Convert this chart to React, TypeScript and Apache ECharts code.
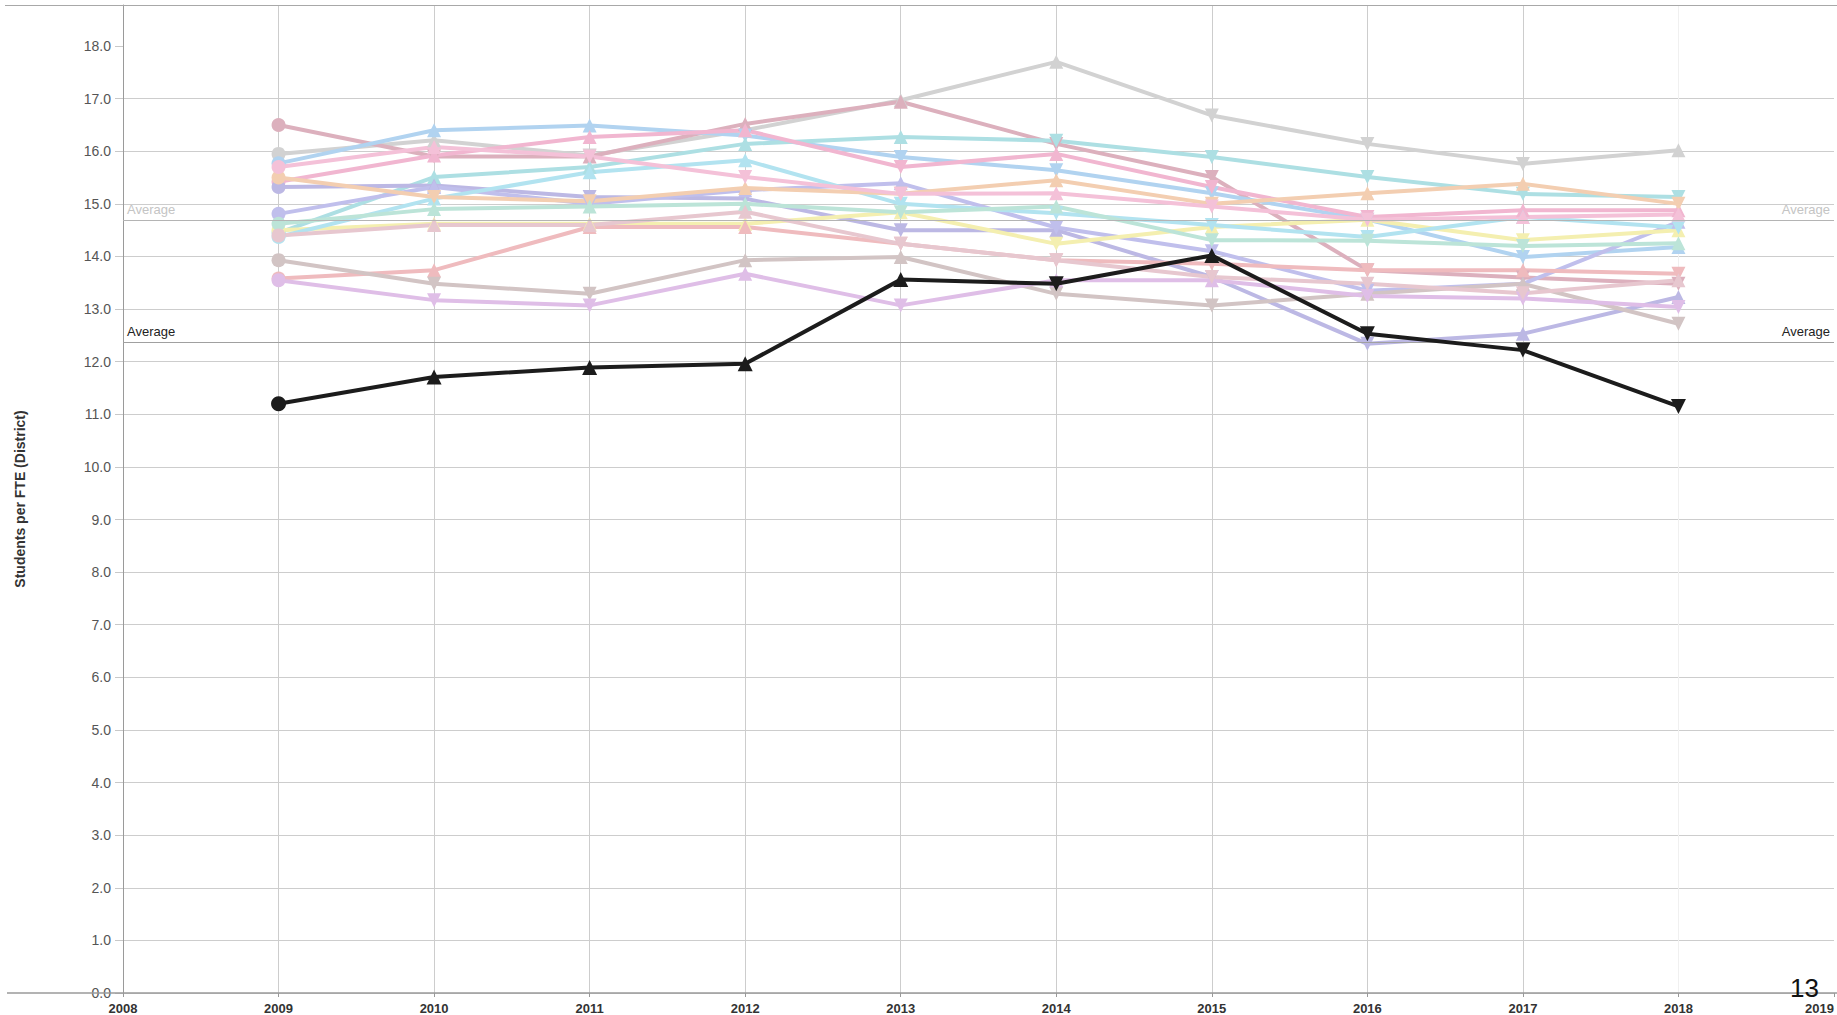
import React, { useEffect, useRef } from "react";
import * as echarts from "echarts";

// ---- data ----
const years = [2009, 2010, 2011, 2012, 2013, 2014, 2015, 2016, 2017, 2018];

const focusDistrict = [11.2, 11.71, 11.89, 11.96, 13.56, 13.48, 14.02, 12.53, 12.22, 11.15];

const peer01 = [15.95, 16.21, 15.92, 16.4, 16.97, 17.7, 16.68, 16.14, 15.76, 16.02];
const peer02 = [16.5, 15.9, 15.9, 16.52, 16.94, 16.14, 15.51, 13.74, 13.6, 13.48];
const peer03 = [15.77, 16.4, 16.49, 16.3, 15.89, 15.64, 15.2, 14.7, 13.99, 14.18];
const peer04 = [14.45, 15.51, 15.7, 16.14, 16.27, 16.2, 15.89, 15.51, 15.19, 15.13];
const peer05 = [15.42, 15.92, 16.27, 16.4, 15.7, 15.95, 15.32, 14.75, 14.88, 14.88];
const peer06 = [15.32, 15.35, 15.13, 15.1, 14.5, 14.5, 13.61, 12.34, 12.53, 13.23];
const peer07 = [14.81, 15.32, 15.0, 15.26, 15.39, 14.55, 14.1, 13.35, 13.48, 14.66];
const peer08 = [14.5, 14.62, 14.62, 14.62, 14.84, 14.24, 14.56, 14.7, 14.31, 14.5];
const peer09 = [13.58, 13.74, 14.56, 14.56, 14.24, 13.93, 13.86, 13.74, 13.74, 13.67];
const peer10 = [13.93, 13.48, 13.29, 13.93, 13.99, 13.29, 13.07, 13.29, 13.48, 12.72];
const peer11 = [13.55, 13.17, 13.07, 13.67, 13.07, 13.55, 13.55, 13.25, 13.2, 13.04];
const peer12 = [14.37, 15.1, 15.6, 15.83, 15.0, 14.82, 14.6, 14.37, 14.75, 14.55];
const peer13 = [15.5, 15.13, 15.05, 15.3, 15.19, 15.45, 15.0, 15.2, 15.38, 15.0];
const peer14 = [15.7, 16.08, 15.9, 15.51, 15.19, 15.2, 14.95, 14.7, 14.75, 14.8];
const peer15 = [14.62, 14.9, 14.95, 15.0, 14.84, 14.95, 14.31, 14.3, 14.2, 14.25];
const peer16 = [14.4, 14.6, 14.6, 14.85, 14.24, 13.93, 13.61, 13.48, 13.3, 13.55];

const peerSeries = [
  peer01, peer02, peer03, peer04, peer05, peer06, peer07, peer08,
  peer09, peer10, peer11, peer12, peer13, peer14, peer15, peer16,
];
const peerColors = [
  "#d2d2d2", "#dcb0bd", "#b1d3f0", "#addfe3", "#f1b6d0", "#bcb8e4", "#c0bfec", "#f4efb0",
  "#efbbbe", "#d2c4c4", "#dfbee7", "#b2e3f0", "#f3ceb1", "#f4c1d8", "#bce4d8", "#e7c7cf",
];

const peerAverage = 14.69;
const focusAverage = 12.37;

const xMin = 2008;
const xMax = 2019;
const yMin = 0;
const yMax = 18.78;

const DOWN = "path://M0,0L10,0L5,10Z";
const FONT = "'Liberation Sans', Arial, sans-serif";

function trendSymbol(arr: number[]) {
  return (_v: any, p: any) => {
    const i = p.dataIndex;
    if (i === 0) return "circle";
    return arr[i] >= arr[i - 1] ? "triangle" : DOWN;
  };
}

function pairs(arr: number[]) {
  return years.map((y, i) => [y, arr[i]]);
}

export default function App() {
  const ref = useRef<HTMLDivElement>(null);

  useEffect(() => {
    document.body.style.margin = "0";
    const chart = echarts.init(ref.current!, null, { renderer: "svg" });

    const ySplitColors: string[] = [];
    for (let i = 0; i <= 19; i++) ySplitColors.push(i >= 18 ? "rgba(0,0,0,0)" : "#cdcdcd");
    const xSplitColors: string[] = [];
    for (let i = 0; i <= 11; i++)
      xSplitColors.push(i === 0 || i === 11 ? "rgba(0,0,0,0)" : i === 10 ? "#f0f0f0" : "#cdcdcd");

    const series: any[] = peerSeries.map((arr, k) => ({
      type: "line",
      data: pairs(arr),
      symbol: trendSymbol(arr),
      symbolSize: 14,
      showAllSymbol: true,
      lineStyle: { color: peerColors[k], width: 4 },
      itemStyle: { color: peerColors[k] },
      z: 2,
    }));

    series.push({
      type: "line",
      data: pairs(focusDistrict),
      symbol: trendSymbol(focusDistrict),
      symbolSize: 15,
      lineStyle: { color: "#1c1c1c", width: 4 },
      itemStyle: { color: "#1c1c1c" },
      z: 5,
      markLine: {
        silent: true,
        symbol: "none",
        animation: false,
        data: [
          {
            yAxis: peerAverage,
            lineStyle: { color: "#b4b4b4", width: 1, type: "solid" },
            label: { formatter: "Average", position: "insideStartTop", color: "#c4c4c4", fontSize: 13, fontFamily: FONT, distance: 4 },
          },
          {
            yAxis: peerAverage,
            lineStyle: { color: "#b4b4b4", width: 1, type: "solid" },
            label: { formatter: "Average", position: "insideEndTop", color: "#c4c4c4", fontSize: 13, fontFamily: FONT, distance: 4 },
          },
          {
            yAxis: focusAverage,
            lineStyle: { color: "#a0a0a0", width: 1, type: "solid" },
            label: { formatter: "Average", position: "insideStartTop", color: "#222", fontSize: 13, fontFamily: FONT, distance: 4 },
          },
          {
            yAxis: focusAverage,
            lineStyle: { color: "#a0a0a0", width: 1, type: "solid" },
            label: { formatter: "Average", position: "insideEndTop", color: "#222", fontSize: 13, fontFamily: FONT, distance: 4 },
          },
        ],
      },
    });

    chart.setOption({
      animation: false,
      backgroundColor: "#ffffff",
      grid: { left: 123, top: 5, width: 1716, height: 988, containLabel: false },
      xAxis: {
        type: "value",
        min: xMin,
        max: xMax,
        interval: 1,
        axisLine: { show: false },
        axisTick: { show: true, length: 4, lineStyle: { color: "#999" } },
        axisLabel: {
          formatter: (v: number) => String(v),
          fontFamily: FONT,
          fontWeight: "bold",
          fontSize: 13,
          color: "#333",
          margin: 9,
          alignMaxLabel: "right",
        },
        splitLine: { show: true, lineStyle: { color: xSplitColors, width: 1 } },
      },
      yAxis: {
        type: "value",
        min: yMin,
        max: yMax,
        interval: 1,
        name: "Students per FTE (District)",
        nameLocation: "middle",
        nameGap: 96,
        nameTextStyle: { fontFamily: FONT, fontWeight: "bold", fontSize: 14, color: "#333" },
        axisLine: { show: true, lineStyle: { color: "#9a9a9a" } },
        axisTick: { show: true, length: 8, lineStyle: { color: "#c8c8c8" } },
        axisLabel: {
          formatter: (v: number) => (Number.isInteger(v) ? v.toFixed(1) : ""),
          fontFamily: FONT,
          fontSize: 14,
          color: "#555",
          margin: 12,
          showMaxLabel: false,
        },
        splitLine: { show: true, lineStyle: { color: ySplitColors, width: 1 } },
      },
      graphic: [
        { type: "line", shape: { x1: 5, y1: 5.5, x2: 1837, y2: 5.5 }, style: { stroke: "#a8a8a8", lineWidth: 1 }, z: 10 },
        { type: "line", shape: { x1: 7, y1: 993, x2: 1837, y2: 993 }, style: { stroke: "#9a9a9a", lineWidth: 1.5 }, z: 10 },
        {
          type: "text",
          x: 1790,
          y: 988,
          style: { text: "13", font: "26px 'Liberation Sans', Arial, sans-serif", fill: "#111", verticalAlign: "middle", align: "left" },
          z: 20,
        },
      ],
      series,
    });

    return () => chart.dispose();
  }, []);

  return (
    <div
      ref={ref}
      style={{ position: "absolute", left: 0, top: 0, width: 1837, height: 1015 }}
    />
  );
}
